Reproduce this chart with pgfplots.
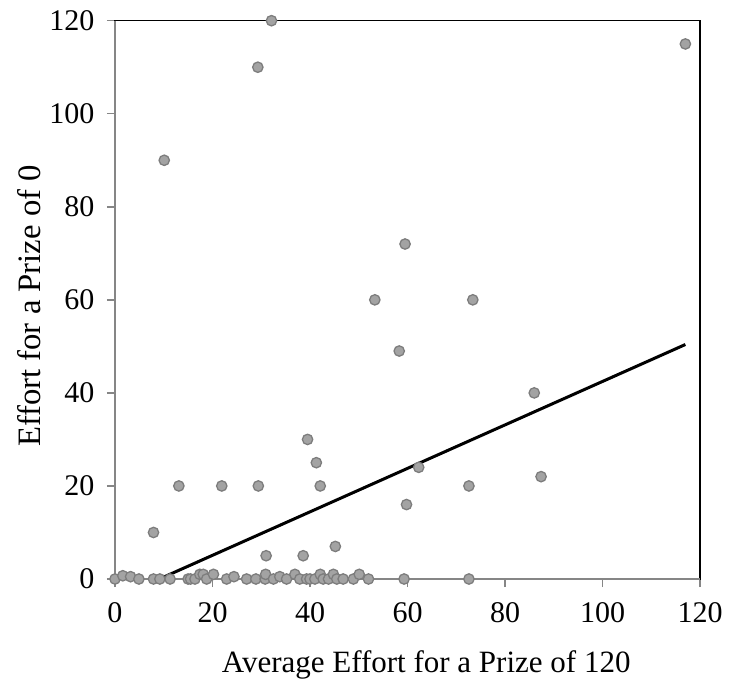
\documentclass[border=0pt]{standalone}
\usepackage{pgfplots}
\pgfplotsset{compat=1.18}
\usepackage{fontspec}
\setmainfont{Liberation Serif}

\definecolor{markfill}{RGB}{163,163,163}
\definecolor{markedge}{RGB}{125,125,125}
\definecolor{axisgray}{RGB}{134,134,134}

\begin{document}
\begin{tikzpicture}
\begin{axis}[
  at={(0,0)}, anchor=south west,
  scale only axis,
  width=585bp, height=558.3bp,
  xmin=0, xmax=120, ymin=0, ymax=120,
  xtick={0,20,...,120}, ytick={0,20,...,120},
  tick pos=left, tick align=outside,
  major tick length=8bp,
  tick style={axisgray, line width=1.5bp},
  axis line style={black, line width=1.5bp},
  clip=false,
  /pgf/number format/assume math mode=true,
  tick label style={font=\fontsize{30bp}{34bp}\selectfont},
  yticklabel style={xshift=-9bp},
  xticklabel style={yshift=-12bp},
  xlabel={Average Effort for a Prize of 120},
  ylabel={Effort for a Prize of 0},
  xlabel style={font=\fontsize{31bp}{36bp}\selectfont,
    at={(axis description cs:0.532,-0.1546)}, anchor=center},
  ylabel style={font=\fontsize{32.7bp}{38bp}\selectfont,
    at={(axis description cs:-0.146,0.489)}, anchor=center},
]

% gray left and bottom axis lines over the black box
\draw[axisgray, line width=2.5bp] (rel axis cs:0,1) -- (rel axis cs:0,0) -- (rel axis cs:1,0);

\addplot[only marks, mark=*, mark size=5.2bp,
  mark options={fill=markfill, draw=markedge, line width=1.3bp}] coordinates {
(0,0) (1.6,0.7) (3.2,0.5) (4.9,0) (7.9,0) (9.2,0) (11.3,0)
(15.0,0) (15.5,0) (16.4,0) (17.4,1) (18.1,1) (18.8,0) (20.2,1)
(22.9,0) (24.4,0.5) (27.0,0) (28.9,0) (30.8,0) (30.9,1) (32.5,0)
(33.8,0.5) (35.2,0) (36.9,1) (37.9,0) (39.3,0) (40.0,0) (41.0,0)
(42.1,1) (42.7,0) (43.8,0) (44.8,1) (45.5,0) (46.8,0) (48.9,0)
(50.1,1) (52.0,0) (59.3,0) (72.6,0)
(7.9,10) (10.1,90) (13.1,20) (21.9,20) (29.3,110) (29.4,20)
(32.1,120) (31.0,5) (38.6,5) (39.5,30) (41.3,25) (42.1,20)
(45.2,7) (53.3,60) (58.3,49) (59.5,72) (59.8,16) (62.3,24)
(72.6,20) (73.4,60) (86.0,40) (87.4,22) (117.0,115)
};

% linear trend line
\addplot[black, line width=3bp, no marks] coordinates {(9.1,0) (117,50.4)};

\end{axis}
\pgfresetboundingbox
\path (-115bp,-105bp) rectangle (614bp,579bp);
\end{tikzpicture}
\end{document}
